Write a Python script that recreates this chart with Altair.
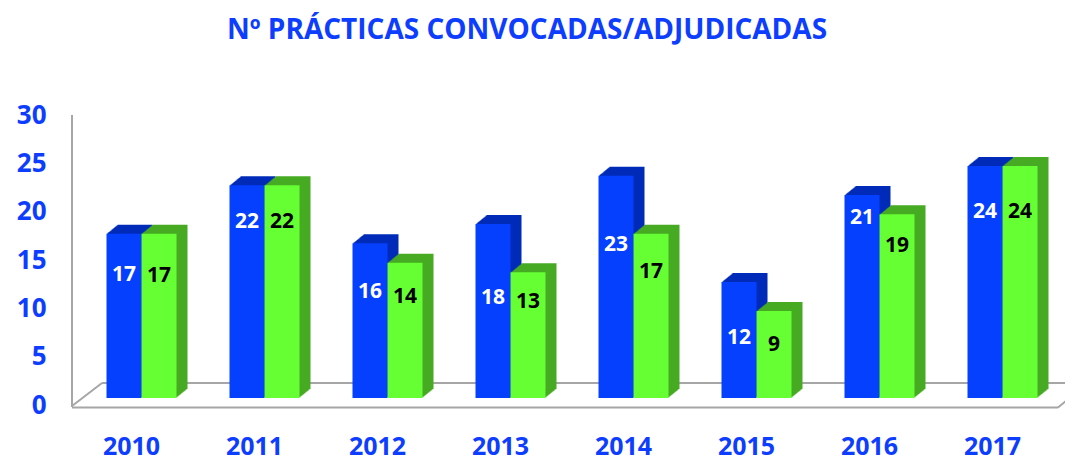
import altair as alt
import pandas as pd

# ---- data ----
years = ["2010", "2011", "2012", "2013", "2014", "2015", "2016", "2017"]
convocadas = [17, 22, 16, 18, 23, 12, 21, 24]
adjudicadas = [17, 22, 14, 13, 17, 9, 19, 24]
# vertical position (data units) of each value label, as placed in the reference
conv_label_pos = [12.7, 18.2, 11.0, 10.3, 15.8, 6.2, 18.6, 19.2]
adj_label_pos = [12.6, 18.2, 10.4, 9.9, 13.0, 5.5, 15.7, 19.2]
y_ticks = [0, 5, 10, 15, 20, 25, 30]

conv = pd.DataFrame({"year": years, "value": convocadas, "lab": conv_label_pos})
adj = pd.DataFrame({"year": years, "value": adjudicadas, "lab": adj_label_pos})
one = pd.DataFrame({"k": [0]})

FONT = "Open Sans"
BLUE_TXT = "#0d3dff"
BLUE = "#0540ff"
BLUE_DARK = "#002bb8"
GREEN = "#66ff33"
GREEN_DARK = "#46aa22"
GRAY = "#a6a6a6"

W, H = 984, 290
BW = 35
DEPTH_STEPS = 11          # 3-D extrusion: 11 px right, 9 px up
DX_TOTAL, DY_TOTAL = 11.0, -9.0

x_enc = alt.X(
    "year:N",
    sort=years,
    scale=alt.Scale(paddingInner=0.432, paddingOuter=0.216),
    axis=alt.Axis(
        title=None, domain=False, ticks=False, labelAngle=0,
        labelFont=FONT, labelFontSize=25, labelFontWeight="bold",
        labelColor=BLUE_TXT, labelPadding=36, labelOffset=-10,
    ),
)
y_enc = alt.Y(
    "value:Q",
    scale=alt.Scale(domain=[0, 30], nice=False),
    axis=alt.Axis(
        title=None, domain=False, ticks=False, grid=False, values=y_ticks,
        labelFont=FONT, labelFontSize=26, labelFontWeight="bold",
        labelColor=BLUE_TXT, labelPadding=34, labelOffset=7,
    ),
)

def rule(x, x2, y, y2):
    return alt.Chart(one).mark_rule(color=GRAY, strokeWidth=2).encode(
        x=alt.value(x), x2=alt.value(x2), y=alt.value(y), y2=alt.value(y2)
    )

floor = (
    rule(-8, -8, 7, 299)
    + rule(-8, 978, 299.5, 299.5)
    + rule(22, 992, 275, 275)
    + rule(-8, 22, 298, 275)
    + rule(978, 992, 299.5, 288)
)

def extrusion(df, base_offset, color):
    layers = []
    for k in range(1, DEPTH_STEPS + 1):
        dx = DX_TOTAL * k / DEPTH_STEPS
        dy = DY_TOTAL * k / DEPTH_STEPS
        layers.append(
            alt.Chart(df).mark_bar(
                width=BW, xOffset=base_offset + dx, yOffset=dy, y2Offset=dy, color=color
            ).encode(x=x_enc, y=y_enc)
        )
    return layers

blue_back = extrusion(conv, -BW / 2, BLUE_DARK)
green_back = extrusion(adj, BW / 2, GREEN_DARK)

blue_front = alt.Chart(conv).mark_bar(
    width=BW, xOffset=-BW / 2, color=BLUE
).encode(x=x_enc, y=y_enc)
green_front = alt.Chart(adj).mark_bar(
    width=BW, xOffset=BW / 2, color=GREEN
).encode(x=x_enc, y=y_enc)

lab_y = alt.Y("lab:Q", scale=alt.Scale(domain=[0, 30], nice=False))
blue_txt = alt.Chart(conv).mark_text(
    xOffset=-BW / 2, font=FONT, fontSize=21, fontWeight="bold",
    color="white", baseline="middle", align="center",
).encode(x=x_enc, y=lab_y, text="value:Q")
green_txt = alt.Chart(adj).mark_text(
    xOffset=BW / 2, font=FONT, fontSize=21, fontWeight="bold",
    color="black", baseline="middle", align="center",
).encode(x=x_enc, y=lab_y, text="value:Q")

chart = alt.layer(
    floor, *blue_back, *green_back, blue_front, green_front, blue_txt, green_txt
).properties(
    width=W,
    height=H,
    title=alt.TitleParams(
        "Nº PRÁCTICAS CONVOCADAS/ADJUDICADAS",
        font=FONT, fontSize=28, fontWeight="bold", color=BLUE_TXT,
        anchor="middle", dx=-45, offset=57,
    ),
    autosize=alt.AutoSizeParams(type="none"),
    padding={"left": 72, "top": 100, "right": 1, "bottom": 62},
).configure_view(stroke=None).resolve_scale(y="shared")

chart.save("out.html", embed_options={"renderer": "svg", "actions": False})
